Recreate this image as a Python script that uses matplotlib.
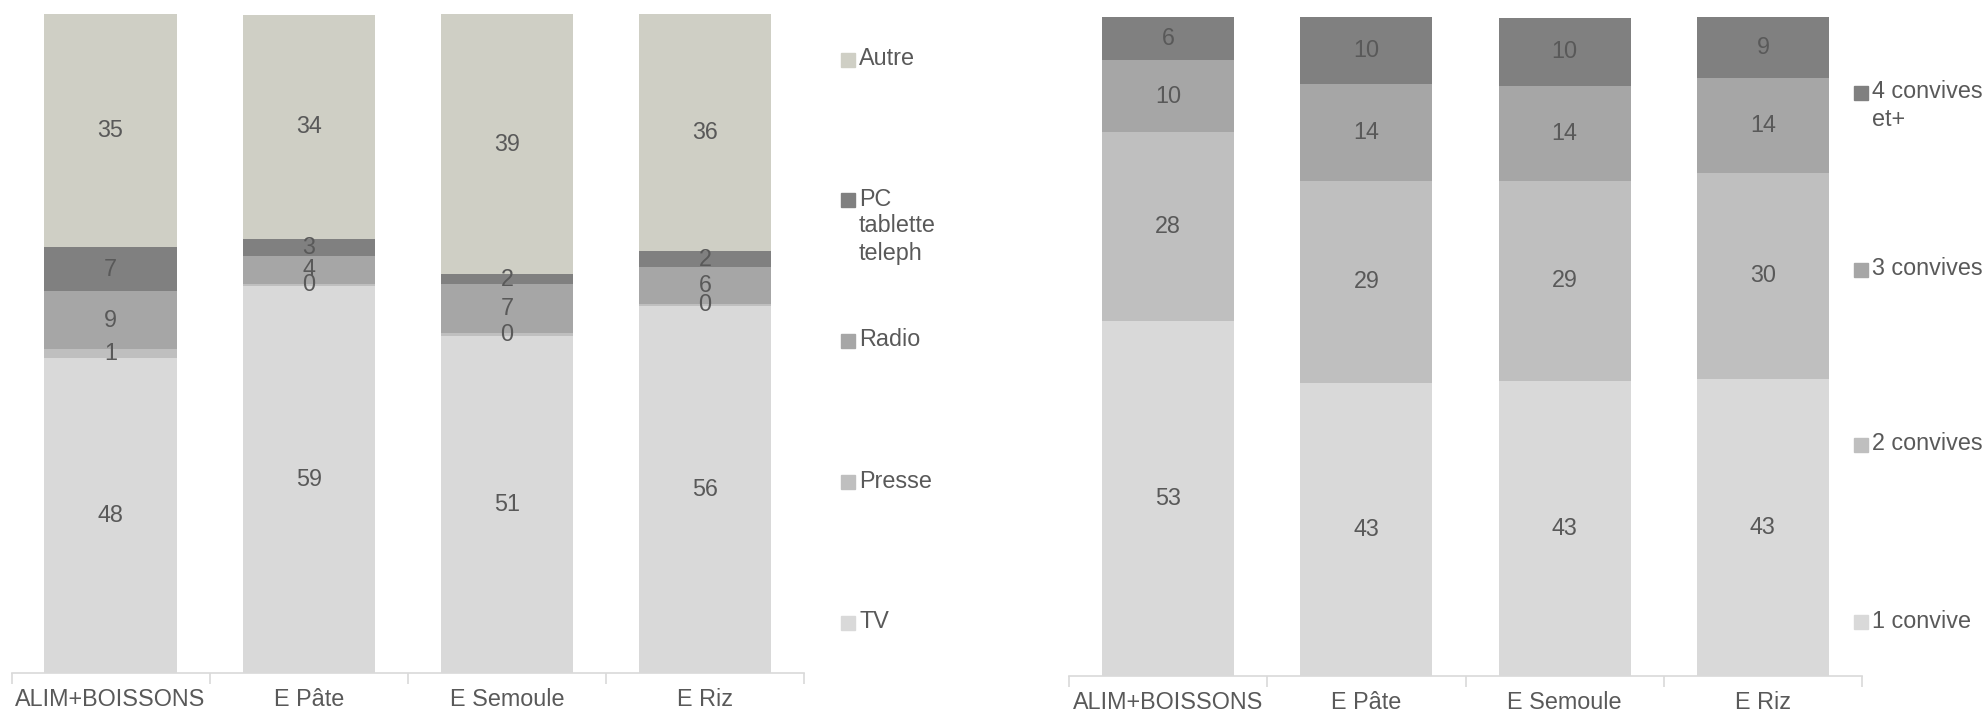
import numpy as np
import matplotlib.pyplot as plt
from matplotlib.lines import Line2D

FS = 16.8
plt.rcParams['font.family'] = ['Liberation Sans', 'DejaVu Sans']
plt.rcParams['font.size'] = FS

# Data (bar heights, labels as printed)
categories = ['ALIM+BOISSONS', 'E Pâte', 'E Semoule', 'E Riz']

tv = [47.8, 58.7, 51.1, 55.7]
presse = [1.3, 0.4, 0.5, 0.3]
radio = [8.9, 4.2, 7.4, 5.6]
pc = [6.6, 2.6, 1.5, 2.4]
autre = [35.4, 34.0, 39.5, 36.1]
tv_lbl = [48, 59, 51, 56]
presse_lbl = [1, 0, 0, 0]
radio_lbl = [9, 4, 7, 6]
pc_lbl = [7, 3, 2, 2]
autre_lbl = [35, 34, 39, 36]
left_names = ['TV', 'Presse', 'Radio', 'PC\ntablette\nteleph', 'Autre']

conv1 = [53.9, 44.5, 44.8, 45.1]
conv2 = [28.7, 30.6, 30.3, 31.2]
conv3 = [10.8, 14.7, 14.4, 14.4]
conv4 = [6.6, 10.2, 10.4, 9.3]
conv1_lbl = [53, 43, 43, 43]
conv2_lbl = [28, 29, 29, 30]
conv3_lbl = [10, 14, 14, 14]
conv4_lbl = [6, 10, 10, 9]
right_names = ['1 convive', '2 convives', '3 convives', '4 convives\net+']

left_colors = ['#d9d9d9', '#bfbfbf', '#a6a6a6', '#808080', '#cfcfc5']
right_colors = ['#d9d9d9', '#bfbfbf', '#a6a6a6', '#808080']
txt_color = '#595959'

W, H = 1987, 714
fig = plt.figure(figsize=(W / 100, H / 100), dpi=100)


def stacked(ax, series, labels, colors):
    x = np.arange(len(categories))
    bottom = np.zeros(len(categories))
    for vals, lbls, col in zip(series, labels, colors):
        vals = np.array(vals)
        ax.bar(x, vals, bottom=bottom, width=0.667, color=col, linewidth=0)
        for xi, b, v, l in zip(x, bottom, vals, lbls):
            ax.text(xi, b + v / 2, str(l), ha='center', va='center',
                    color=txt_color, fontsize=FS)
        bottom += vals
    ax.set_xlim(-0.5, len(categories) - 0.5)
    ax.set_ylim(0, 100)
    for s in ['top', 'left', 'right']:
        ax.spines[s].set_visible(False)
    ax.spines['bottom'].set_color('#d9d9d9')
    ax.spines['bottom'].set_linewidth(1.2)
    ax.set_yticks([])
    ax.set_xticks(x)
    ax.set_xticklabels(categories, color=txt_color, fontsize=FS)
    ax.tick_params(axis='x', which='major', length=0, pad=11)
    ax.set_xticks(np.arange(-0.5, len(categories), 1.0), minor=True)
    ax.tick_params(axis='x', which='minor', length=8, color='#d9d9d9', width=1.2)


def legend(names, colors, x_sq, x_txt, y_px, line_px):
    for name, col, yc in zip(names, colors, y_px):
        fig.add_artist(Line2D([x_sq / W], [1 - (yc + 1) / H], marker='s',
                              markersize=9.5, color=col, linestyle='none'))
        for k, line in enumerate(name.split('\n')):
            fig.text(x_txt / W, 1 - (yc + k * line_px) / H, line,
                     ha='left', va='center', color=txt_color, fontsize=FS)


ax1 = fig.add_axes([11.5 / W, 41 / H, 792.5 / W, 659 / H])
stacked(ax1, [tv, presse, radio, pc, autre],
        [tv_lbl, presse_lbl, radio_lbl, pc_lbl, autre_lbl], left_colors)
legend(left_names, left_colors, 848, 859, [622, 481, 340, 199, 58.6], 27)

ax2 = fig.add_axes([1069 / W, 38 / H, 793 / W, 659 / H])
stacked(ax2, [conv1, conv2, conv3, conv4],
        [conv1_lbl, conv2_lbl, conv3_lbl, conv4_lbl], right_colors)
legend(right_names, right_colors, 1861, 1872, [621, 444, 268.6, 91.5], 28.5)

fig.savefig('out.png', dpi=100)
